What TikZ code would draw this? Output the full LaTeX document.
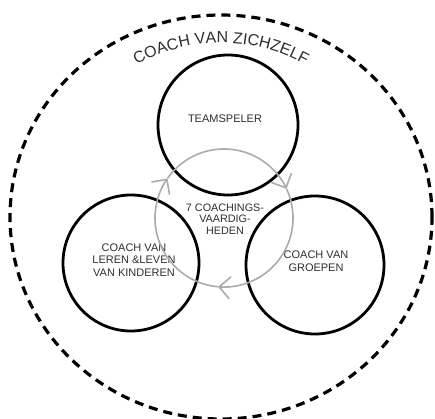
\documentclass[tikz,border=0pt]{standalone}
\usepackage{fontspec}
\setmainfont{Liberation Sans}
\usepackage{xcolor}
\usetikzlibrary{arrows.meta, decorations.text}

\definecolor{inkgray}{HTML}{2E2E2E}
\definecolor{cyclegray}{HTML}{ABABAB}

\tikzset{
  ring/.style={circle, draw=black, line width=2.8pt, inner sep=0pt,
    text=inkgray, align=center, font=\fontsize{11}{12.5}\selectfont},
  cycle/.style={cyclegray, line width=1.6pt},
  outer/.style={black, line width=3.2pt, dash pattern=on 9pt off 6pt}
}

\begin{document}
\begin{tikzpicture}[x=1pt, y=1pt, >={Straight Barb[length=11pt, width=22pt]}]
\useasboundingbox (0,0) rectangle (435,418);
\coordinate (O) at (221,201);
\coordinate (C) at (224,200);

% outer dashed ring
\draw[outer] (O) ellipse [x radius=211, y radius=202];
\path[decorate, decoration={text along path, text align=center,
    text color=inkgray,
    text={|\fontsize{16}{16}\selectfont|COACH VAN ZICHZELF}}]
  (O) ++(126:174) arc[start angle=126, end angle=54, radius=174];

% the three roles
\node[ring, minimum size=140pt] (team)   at (228,293) {};
\node[ring, minimum size=136pt] (kids)   at (131,155) {};
\node[ring, minimum size=138pt] (groups) at (315,153) {};
\node[text=inkgray, font=\fontsize{11}{12.5}\selectfont] at (225,299) {TEAMSPELER};
\node[text=inkgray, align=center, font=\fontsize{11}{12.5}\selectfont]
  at (134,158) {COACH VAN\\LEREN \&LEVEN\\VAN KINDEREN};
\node[text=inkgray, align=center, font=\fontsize{11}{12.5}\selectfont]
  at (316,157) {COACH VAN\\GROEPEN};

% cycle in the middle
\foreach \a/\b in {265/145, 145/25, 25/-95}{
    \draw[cycle, ->] (C) ++(\a:69) arc[start angle=\a, end angle=\b, radius=69];
}
\node[text=inkgray, align=center, font=\fontsize{10.8}{11.5}\selectfont] (skills)
  at (225,199) {7 COACHINGS-\\VAARDIG-\\HEDEN};
\end{tikzpicture}
\end{document}
